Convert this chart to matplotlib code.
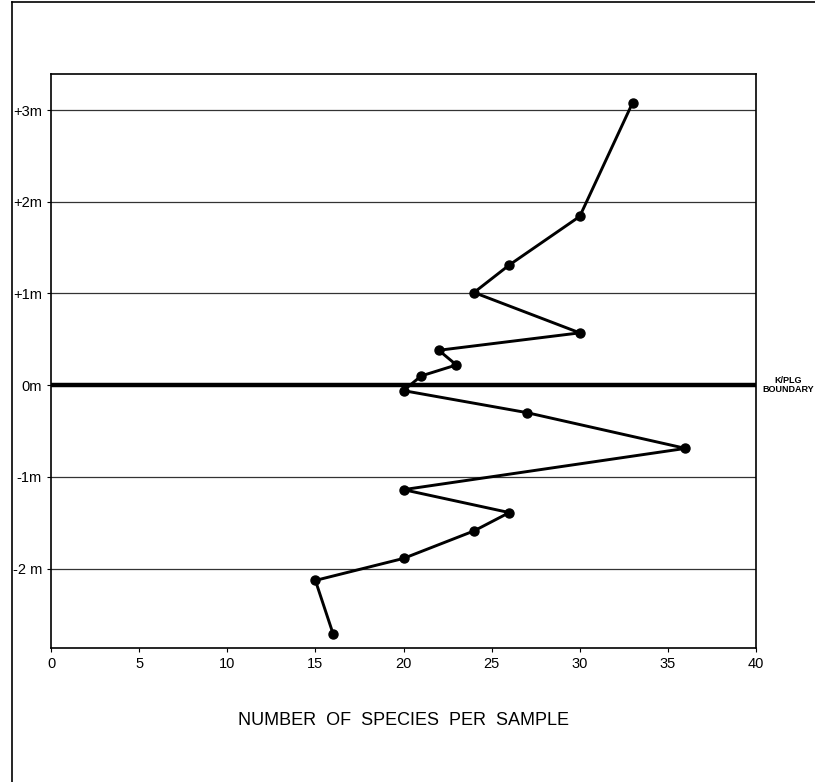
import matplotlib.pyplot as plt
from matplotlib.lines import Line2D

# species counts per sample vs. height relative to the K/PLG boundary
species = [33, 30, 26, 24, 30, 22, 23, 21, 20, 27, 36, 20, 26, 24, 20, 15, 16]
height_m = [3.08, 1.84, 1.31, 1.01, 0.57, 0.38, 0.22, 0.10, -0.06,
            -0.30, -0.69, -1.14, -1.39, -1.59, -1.89, -2.13, -2.71]

x_ticks = [0, 5, 10, 15, 20, 25, 30, 35, 40]
y_ticks = [3, 2, 1, 0, -1, -2]
y_labels = ['+3m', '+2m', '+1m', '0m', '-1m', '-2 m']

plt.rcParams['font.family'] = ['Liberation Sans', 'DejaVu Sans']

fig = plt.figure(figsize=(8.15, 7.82), dpi=100)
ax = fig.add_axes([0.0626, 0.171, 0.865, 0.734])

# grid lines (the 0m line is the boundary, drawn heavy)
for y in y_ticks:
    if y == 0:
        ax.axhline(y, color='black', lw=3.2, zorder=2)
    else:
        ax.axhline(y, color='#333333', lw=0.9, zorder=1)

ax.plot(species, height_m, color='black', lw=2.1, marker='o',
        markersize=6.5, zorder=3)

ax.set_xlim(0, 40)
ax.set_ylim(-2.87, 3.39)
ax.set_xticks(x_ticks)
ax.set_yticks(y_ticks)
ax.set_yticklabels(y_labels)
ax.tick_params(labelsize=10.5, length=3, width=0.8, color='black')
for s in ax.spines.values():
    s.set_linewidth(1.2)

ax.set_xlabel('NUMBER  OF  SPECIES  PER  SAMPLE', fontsize=13, labelpad=29)

ax.text(1.045, 0.0, 'K/PLG\nBOUNDARY', transform=ax.get_yaxis_transform(),
        fontsize=6.5, fontweight='bold', ha='center', va='center',
        linespacing=0.95)

# page border from the scan
fig.add_artist(Line2D([0.015, 0.015], [0, 0.997], color='black', lw=1.2,
                      transform=fig.transFigure))
fig.add_artist(Line2D([0.015, 1.0], [0.997, 0.997], color='black', lw=1.2,
                      transform=fig.transFigure))

fig.savefig('out.png', dpi=100)
